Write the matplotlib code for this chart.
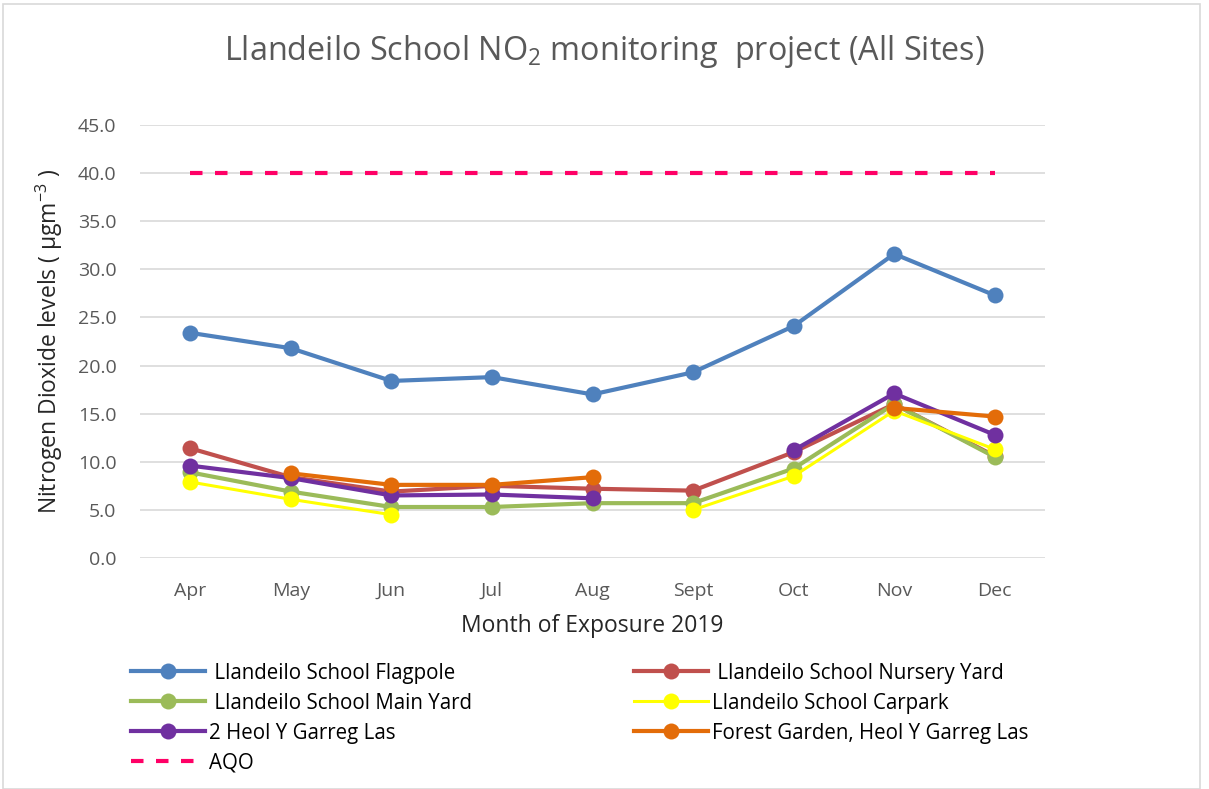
import numpy as np
import matplotlib
matplotlib.use("Agg")
import matplotlib.pyplot as plt
from matplotlib.patches import Rectangle

months = ["Apr", "May", "Jun", "Jul", "Aug", "Sept", "Oct", "Nov", "Dec"]
nan = np.nan
flagpole = [23.4, 21.8, 18.4, 18.8, 17.0, 19.3, 24.1, 31.6, 27.3]
nursery = [11.4, 8.4, 6.9, 7.5, 7.2, 7.0, 11.0, 16.0, 10.6]
main_yard = [8.9, 6.9, 5.3, 5.3, 5.7, 5.7, 9.3, 16.0, 10.5]
carpark = [7.9, 6.1, 4.5, nan, nan, 5.0, 8.5, 15.3, 11.3]
heol2 = [9.6, 8.3, 6.5, 6.6, 6.2, nan, 11.2, 17.1, 12.8]
forest = [nan, 8.8, 7.6, 7.6, 8.4, nan, nan, 15.6, 14.7]
aqo = [40.0] * 9

names = [" Llandeilo School Flagpole", " Llandeilo School Nursery Yard",
         " Llandeilo School Main Yard", "Llandeilo School Carpark",
         "2 Heol Y Garreg Las", "Forest Garden, Heol Y Garreg Las", "AQO"]

plt.rcParams['font.family'] = ['Open Sans', 'DejaVu Sans']
plt.rcParams['mathtext.fontset'] = 'custom'
plt.rcParams['mathtext.rm'] = 'Open Sans'
plt.rcParams['mathtext.it'] = 'Open Sans:italic'
plt.rcParams['mathtext.bf'] = 'Open Sans:bold'

fig = plt.figure(figsize=(12.09, 7.89), dpi=100)
W, H = 1209, 789
ax = fig.add_axes([140 / W, 1 - 558 / H, (1045 - 140) / W, (558 - 125) / H])

x = np.arange(len(months))
series = [
    (flagpole, "#4F81BD", 3.0),
    (nursery, "#C0504D", 3.0),
    (main_yard, "#9BBB59", 3.0),
    (carpark, "#FFFF00", 2.2),
    (heol2, "#7030A0", 3.0),
    (forest, "#E36C09", 3.0),
]
handles = []
for (vals, col, lw), nm in zip(series, names[:6]):
    h, = ax.plot(x, vals, color=col, lw=lw, marker='o', ms=11.5,
                 markeredgewidth=0, label=nm, zorder=3)
    handles.append(h)
h, = ax.plot(x, aqo, color="#FF0066", lw=3.0, ls=(0, (3, 3)), label="AQO", zorder=3)
handles.append(h)

ax.set_xlim(-0.5, len(months) - 0.5)
ax.set_ylim(0, 45)
ax.set_yticks(np.arange(0, 45.1, 5))
ax.set_yticklabels([f"{v:.1f}" for v in np.arange(0, 45.1, 5)])
ax.set_xticks(x)
ax.set_xticklabels(months)
ax.grid(axis='y', color="#D9D9D9", lw=1.2)
ax.set_axisbelow(True)
for s in ax.spines.values():
    s.set_visible(False)
ax.tick_params(length=0, labelsize=14, colors="#595959")
ax.tick_params(axis='x', pad=17)
ax.tick_params(axis='y', pad=17)
ax.set_xlabel("Month of Exposure 2019", fontsize=16.5, color="#262626", labelpad=10)
ax.set_ylabel("Nitrogen Dioxide levels ( µgm$^{\\mathregular{-3}}$ )", fontsize=16.5,
              color="#262626", labelpad=9)

fig.text(0.5, 1 - 51 / H, "Llandeilo School NO$_{\\mathregular{2}}$ monitoring  project (All Sites)",
         ha='center', va='center', fontsize=23.3, color="#595959")

order = [0, 2, 4, 6, 1, 3, 5]
leg = fig.legend([handles[i] for i in order], [names[i] for i in order],
                 loc='upper left', bbox_to_anchor=(112 / W, 1 - 644 / H), ncol=2,
                 frameon=False, fontsize=14.8, handlelength=3.6, columnspacing=7.9,
                 labelspacing=0.44, handletextpad=0.2)
for t in leg.get_texts():
    t.set_color("#000000")

fig.patches.append(Rectangle((3 / W, 0), (1200 - 3) / W, 1 - 4 / H, transform=fig.transFigure,
                             fill=False, edgecolor="#D9D9D9", lw=1.2))

fig.savefig("out.png", dpi=100, facecolor="white")
